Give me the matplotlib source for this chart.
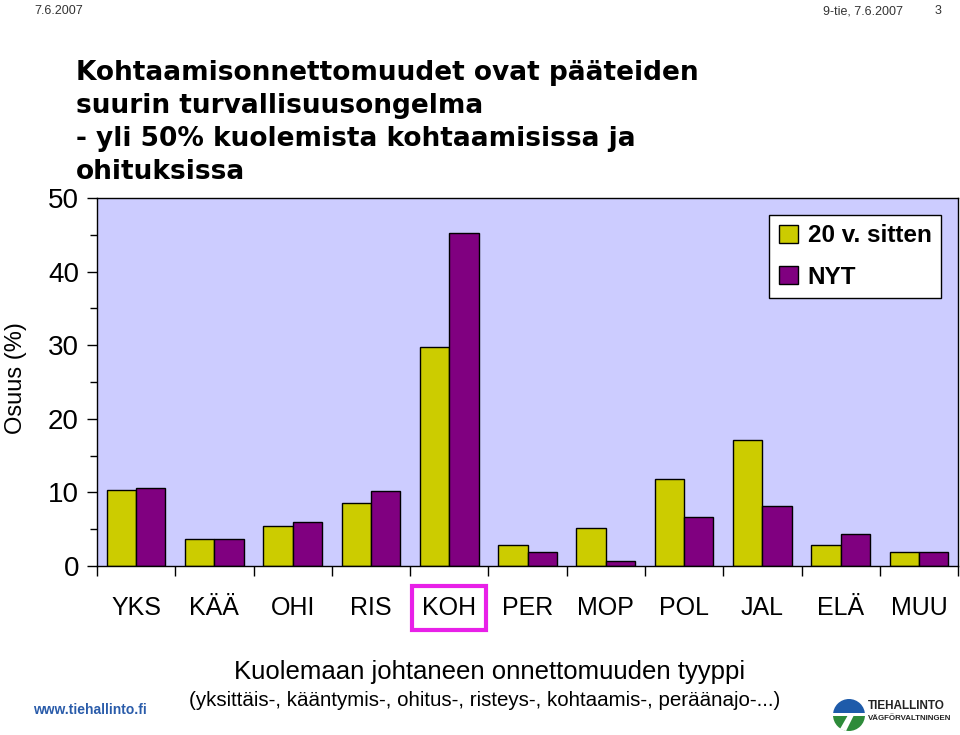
import matplotlib
matplotlib.use('Agg')
import matplotlib.pyplot as plt
from matplotlib.patches import Wedge, Polygon
from matplotlib.ticker import MultipleLocator, FixedLocator

# data
categories = ['YKS', 'KÄÄ', 'OHI', 'RIS', 'KOH', 'PER', 'MOP', 'POL', 'JAL', 'ELÄ', 'MUU']
then_20y = [10.3, 3.7, 5.5, 8.6, 29.7, 2.8, 5.2, 11.8, 17.1, 2.8, 1.9]
now_vals = [10.6, 3.7, 6.0, 10.2, 45.3, 1.9, 0.7, 6.7, 8.2, 4.3, 1.9]
series_names = ['20 v. sitten', 'NYT']

title = ('Kohtaamisonnettomuudet ovat pääteiden\n'
         'suurin turvallisuusongelma\n'
         '- yli 50% kuolemista kohtaamisissa ja\n'
         'ohituksissa')

plt.rcParams['font.family'] = ['Liberation Sans', 'DejaVu Sans']

fig = plt.figure(figsize=(9.6, 7.35), dpi=100)
ax = fig.add_axes([0.101, 0.2299, 0.897, 0.5007])
ax.set_facecolor('#CCCCFF')

x = range(len(categories))
w = 0.375
ax.bar([i - w / 2 for i in x], then_20y, width=w, color='#CCCC00',
       edgecolor='black', linewidth=1, label=series_names[0])
ax.bar([i + w / 2 for i in x], now_vals, width=w, color='#800080',
       edgecolor='black', linewidth=1, label=series_names[1])

ax.set_xlim(-0.5, len(categories) - 0.5)
ax.set_ylim(0, 50)
ax.yaxis.set_major_locator(MultipleLocator(10))
ax.yaxis.set_minor_locator(MultipleLocator(5))
ax.tick_params(axis='y', which='major', length=7, width=1, labelsize=20, pad=6)
ax.tick_params(axis='y', which='minor', length=5, width=1)

ax.set_xticks(list(x))
ax.set_xticklabels(categories)
ax.xaxis.set_minor_locator(FixedLocator([i - 0.5 for i in range(len(categories) + 1)]))
ax.tick_params(axis='x', which='major', length=0, labelsize=18, pad=21.5)
ax.tick_params(axis='x', which='minor', length=7, width=1)
for lab in ax.get_xticklabels():
    if lab.get_text() == 'KOH':
        lab.set_bbox(dict(facecolor='none', edgecolor='#E820E8', linewidth=3,
                          boxstyle='square,pad=0.4'))

for s in ax.spines.values():
    s.set_color('black')
    s.set_linewidth(1)

ax.set_ylabel('Osuus (%)', fontsize=17)
ax.yaxis.set_label_coords(-0.081, 0.512)

leg = ax.legend(loc='upper right', bbox_to_anchor=(0.9805, 0.955),
                prop={'weight': 'bold', 'size': 17.5}, frameon=True, fancybox=False,
                edgecolor='black', framealpha=1, handlelength=0.8, handleheight=0.8,
                handletextpad=0.4, labelspacing=0.75, borderpad=0.4,
                borderaxespad=0)
leg.get_frame().set_linewidth(1)

fig.text(0.079, 0.918, title, fontsize=19, fontweight='bold', family='DejaVu Sans',
         va='top', ha='left', linespacing=1.35, color='black')

fig.text(0.51, 0.086, 'Kuolemaan johtaneen onnettomuuden tyyppi',
         fontsize=18.5, ha='center', va='center')
fig.text(0.505, 0.047, '(yksittäis-, kääntymis-, ohitus-, risteys-, kohtaamis-, peräänajo-...)',
         fontsize=14.8, ha='center', va='center')

# page header
fig.text(0.036, 0.993, '7.6.2007', fontsize=9, ha='left', va='top', color='#333333')
fig.text(0.857, 0.993, '9-tie, 7.6.2007', fontsize=9, ha='left', va='top', color='#333333')
fig.text(0.974, 0.993, '3', fontsize=9, ha='left', va='top', color='#333333')

# footer logos
fig.text(0.034, 0.034, 'www.tiehallinto.fi', fontsize=10, fontweight='bold',
         color='#2A5CAA', ha='left', va='center')
tr = fig.dpi_scale_trans
cx, cy, r = 8.49, 0.20, 0.16
fig.patches.append(Wedge((cx, cy), r, 0, 180, transform=tr,
                         facecolor='#1E5BAA', edgecolor='none'))
fig.patches.append(Wedge((cx, cy), r, 180, 360, transform=tr,
                         facecolor='#2E8B3A', edgecolor='none'))
fig.patches.append(Polygon([(cx - r, cy + 0.025), (cx + r, cy + 0.025),
                            (cx + r, cy - 0.005), (cx - r, cy - 0.005)],
                           closed=True, transform=tr,
                           facecolor='white', edgecolor='none'))
fig.patches.append(Polygon([(cx - 0.01, cy), (cx + 0.05, cy),
                            (cx - 0.03, cy - r), (cx - 0.09, cy - r + 0.02)],
                           closed=True, transform=tr,
                           facecolor='white', edgecolor='none'))
fig.text(0.904, 0.031, 'TIEHALLINTO', fontsize=8.5, fontweight='bold',
         color='#222222', ha='left', va='bottom')
fig.text(0.904, 0.027, 'VÄGFÖRVALTNINGEN', fontsize=5.7, fontweight='bold',
         color='#222222', ha='left', va='top')

fig.savefig('out.png', dpi=100)
